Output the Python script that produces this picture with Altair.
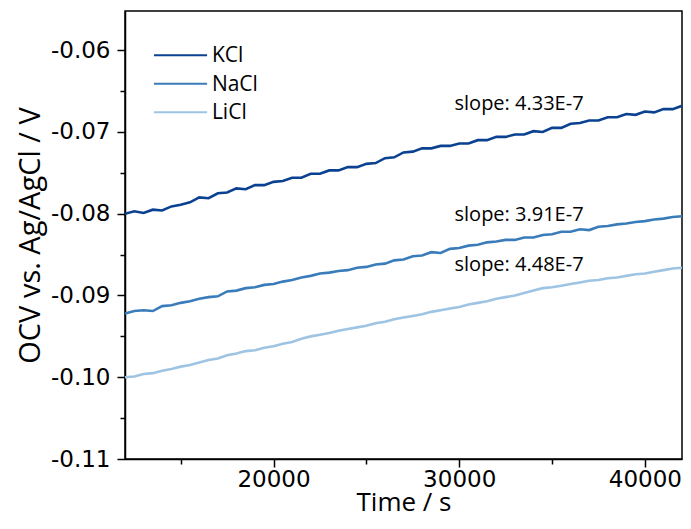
import altair as alt
import pandas as pd

# ---- data ----
series = ["KCl", "NaCl", "LiCl"]
colors = ["#0a4190", "#3a7cba", "#9ec4e4"]

time_s = [12000 + 500 * i for i in range(61)]

kcl = [-0.0800, -0.0797, -0.0799, -0.0795, -0.0796, -0.0791, -0.0789, -0.0786, -0.0780, -0.0781,
       -0.0775, -0.0774, -0.0769, -0.0770, -0.0765, -0.0765, -0.0761, -0.0760, -0.0756, -0.0756,
       -0.0751, -0.0751, -0.0747, -0.0747, -0.0743, -0.0743, -0.0739, -0.0738, -0.0732, -0.0731,
       -0.0725, -0.0724, -0.0720, -0.0720, -0.0717, -0.0717, -0.0714, -0.0714, -0.0710, -0.0710,
       -0.0706, -0.0706, -0.0703, -0.0703, -0.0699, -0.0700, -0.0695, -0.0695, -0.0690, -0.0689,
       -0.0686, -0.0686, -0.0682, -0.0682, -0.0678, -0.0679, -0.0675, -0.0676, -0.0672, -0.0672,
       -0.0668]

nacl = [-0.0922, -0.0919, -0.0918, -0.0919, -0.0913, -0.0912, -0.0909, -0.0907, -0.0904, -0.0902,
        -0.0901, -0.0895, -0.0894, -0.0891, -0.0890, -0.0887, -0.0886, -0.0883, -0.0881, -0.0878,
        -0.0876, -0.0873, -0.0872, -0.0870, -0.0869, -0.0866, -0.0865, -0.0862, -0.0861, -0.0857,
        -0.0856, -0.0852, -0.0851, -0.0847, -0.0848, -0.0843, -0.0842, -0.0839, -0.0838, -0.0835,
        -0.0834, -0.0832, -0.0832, -0.0829, -0.0829, -0.0826, -0.0825, -0.0822, -0.0822, -0.0819,
        -0.0820, -0.0816, -0.0815, -0.0813, -0.0812, -0.0810, -0.0809, -0.0807, -0.0806, -0.0804,
        -0.0803]

licl = [-0.1000, -0.0999, -0.0996, -0.0995, -0.0992, -0.0990, -0.0987, -0.0985, -0.0982, -0.0979,
        -0.0977, -0.0973, -0.0971, -0.0968, -0.0967, -0.0964, -0.0962, -0.0959, -0.0957, -0.0953,
        -0.0950, -0.0948, -0.0946, -0.0943, -0.0941, -0.0939, -0.0937, -0.0934, -0.0932, -0.0929,
        -0.0927, -0.0925, -0.0923, -0.0920, -0.0918, -0.0916, -0.0914, -0.0911, -0.0909, -0.0907,
        -0.0904, -0.0902, -0.0900, -0.0897, -0.0894, -0.0891, -0.0890, -0.0888, -0.0886, -0.0884,
        -0.0882, -0.0881, -0.0879, -0.0878, -0.0876, -0.0874, -0.0873, -0.0871, -0.0869, -0.0867,
        -0.0866]

slope_text = ["slope: 4.33E-7", "slope: 3.91E-7", "slope: 4.48E-7"]

x_major = [20000, 30000, 40000]
x_minor = [15000, 25000, 35000]
y_major = [-0.11, -0.10, -0.09, -0.08, -0.07, -0.06]
y_minor = [-0.105, -0.095, -0.085, -0.075, -0.065, -0.055]

# ---- layout anchors (in data units, placed through the scales) ----
slope_anchor_t = [36700, 36700, 36700]
slope_anchor_v = [-0.0666, -0.0802, -0.0863]
legend_line_t0 = [13560, 13560, 13560]
legend_line_t1 = [16420, 16420, 16420]
legend_text_t = [16680, 16680, 16680]
legend_v = [-0.0606, -0.0641, -0.0676]

# ---- tables ----
rows = []
for name, vals in zip(series, [kcl, nacl, licl]):
    for t, v in zip(time_s, vals):
        rows.append({"t": t, "v": v, "s": name})
df = pd.DataFrame(rows)
ann = pd.DataFrame({"t": slope_anchor_t, "v": slope_anchor_v, "txt": slope_text})
leg = pd.DataFrame({"s": series, "t0": legend_line_t0, "t1": legend_line_t1,
                    "tt": legend_text_t, "v": legend_v})

FONT = "Open Sans"
TICKFONT = "DejaVu Sans"
W, H = 557, 448
xscale = alt.Scale(domain=[12000, 42000], nice=False, zero=False)
yscale = alt.Scale(domain=[-0.11, -0.0552], nice=False, zero=False)
cscale = alt.Scale(domain=series, range=colors)

x_axis = alt.Axis(values=x_major, format="d", title="Time / s", orient="bottom",
                  tickSize=8, tickWidth=1.5, domainWidth=1.5, domainColor="black",
                  tickColor="black", labelFontSize=23, labelColor="black", labelFont=TICKFONT,
                  labelBaseline="alphabetic", labelPadding=19, labelFlush=False,
                  titleFontSize=26, titleFontWeight="normal", titleColor="black",
                  titleFont=FONT, titleBaseline="alphabetic", titleAlign="center",
                  titleX=W / 2, titleY=51, grid=False)
y_axis = alt.Axis(values=y_major, title="OCV vs. Ag/AgCl / V", orient="left",
                  labelExpr="replace(format(datum.value, '.2f'), '\u2212', '-')",
                  tickSize=8, tickWidth=1.5, domainWidth=1.5, domainColor="black",
                  tickColor="black", labelFontSize=23, labelColor="black", labelFont=TICKFONT,
                  labelPadding=7, labelFlush=False,
                  titleFontSize=29, titleFontWeight="normal", titleColor="black",
                  titleFont=FONT, titleBaseline="alphabetic", titleAlign="center",
                  titleAngle=270, titleX=-86, titleY=H / 2, grid=False)

x_axis_minor = alt.Axis(values=x_minor, labels=False, title=None, orient="bottom", tickSize=5,
                        tickWidth=1.5, tickColor="black", domain=False, grid=False)
y_axis_minor = alt.Axis(values=y_minor, labels=False, title=None, orient="left", tickSize=5,
                        tickWidth=1.5, tickColor="black", domain=False, grid=False)

lines = alt.Chart(df).mark_line(strokeWidth=2.6, clip=True).encode(
    x=alt.X("t:Q", scale=xscale, axis=x_axis),
    y=alt.Y("v:Q", scale=yscale, axis=y_axis),
    color=alt.Color("s:N", scale=cscale, legend=None),
    detail="s:N",
)

minor = alt.Chart(df).mark_point(opacity=0).encode(
    x=alt.X("t:Q", scale=xscale, axis=x_axis_minor),
    y=alt.Y("v:Q", scale=yscale, axis=y_axis_minor),
)

labels = alt.Chart(ann).mark_text(align="right", baseline="middle", fontSize=20,
                                   font=FONT, color="black").encode(
    x=alt.X("t:Q", scale=xscale, axis=None),
    y=alt.Y("v:Q", scale=yscale, axis=None),
    text="txt:N",
)

leg_lines = alt.Chart(leg).mark_rule(strokeWidth=2).encode(
    x=alt.X("t0:Q", scale=xscale, axis=None),
    x2="t1:Q",
    y=alt.Y("v:Q", scale=yscale, axis=None),
    color=alt.Color("s:N", scale=cscale, legend=None),
)

leg_text = alt.Chart(leg).mark_text(align="left", baseline="middle", fontSize=21, dy=1,
                                     font=FONT, color="black").encode(
    x=alt.X("tt:Q", scale=xscale, axis=None),
    y=alt.Y("v:Q", scale=yscale, axis=None),
    text="s:N",
)

chart = alt.layer(lines, minor, labels, leg_lines, leg_text).resolve_axis(
    x="independent", y="independent"
).properties(
    width=W, height=H,
    autosize=alt.AutoSizeParams(type="none"),
    padding={"left": 117, "top": 3, "right": 1, "bottom": 58},
).configure_view(stroke="black", strokeWidth=1.5)

chart.save("out.html", embed_options={"renderer": "svg", "actions": False})
